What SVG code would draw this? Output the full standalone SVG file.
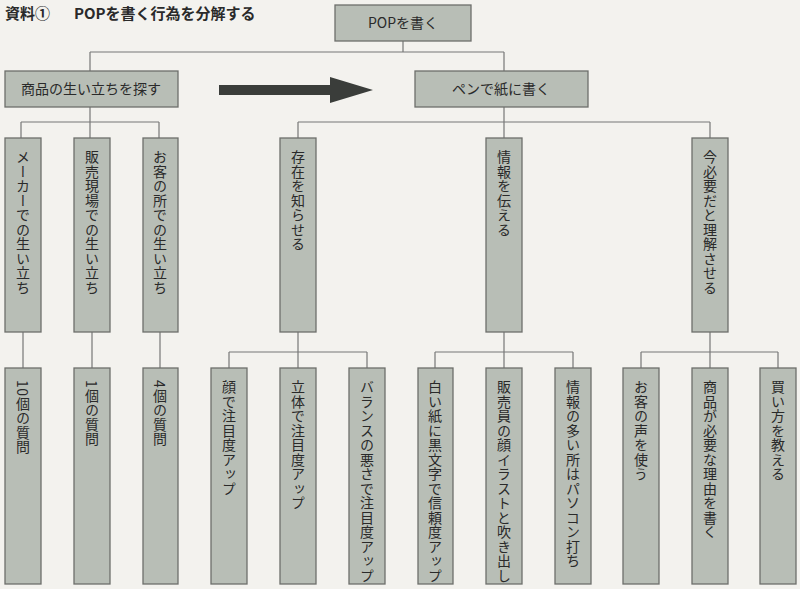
<svg xmlns="http://www.w3.org/2000/svg" width="800" height="589" viewBox="0 0 800 589">
<style>
.b{fill:#b8beb6;stroke:#6d6f6c;stroke-width:1.3}
.t{font-family:"Noto Sans CJK JP","Liberation Sans",sans-serif;font-size:14px;fill:#2a2a2a}
.h{text-anchor:middle}
.v{writing-mode:vertical-rl;letter-spacing:0.5px}
.c{fill:none;stroke:#777;stroke-width:1.2}
</style>
<rect width="800" height="589" fill="#f3f2ee"/>
<text x="5" y="19" class="t" style="font-size:15px;font-weight:bold">資料①</text>
<text x="74" y="19" class="t" style="font-size:15px;font-weight:bold">POPを書く行為を分解する</text>
<g id="connectors">
<path class="c" d="M403 41V52M90 52H504M90 52V71M504 52V71"/>
<path class="c" d="M90 107V122M21 122H159M21 122V138M90 122V138M159 122V138"/>
<path class="c" d="M504 107V122M298 122H710M298 122V138M504 122V138M710 122V138"/>
<path class="c" d="M23 332V368M92 332V368M160 332V368"/>
<path class="c" d="M298 332V352M229 352H367M229 352V368M298 352V368M367 352V368"/>
<path class="c" d="M504 332V352M435 352H573M435 352V368M504 352V368M573 352V368"/>
<path class="c" d="M710 332V352M641 352H778M641 352V368M710 352V368M778 352V368"/>
<path d="M219 85H330V77L373 90L330 103V95H219Z" fill="#3a3d3a"/>
</g>
<g id="root"><rect class="b" x="335" y="5" width="136" height="36"/><text class="t h" x="403" y="28">POPを書く</text></g>
<g id="n1"><rect class="b" x="5" y="71" width="173" height="36"/><text class="t h" x="91" y="94">商品の生い立ちを探す</text></g>
<g id="n2"><rect class="b" x="415" y="71" width="173" height="36"/><text class="t h" x="501" y="94">ペンで紙に書く</text></g>
<g id="n11"><rect class="b" x="5" y="138" width="36" height="194"/><text class="t v" x="23" y="150">メーカーでの生い立ち</text></g>
<g id="n12"><rect class="b" x="74" y="138" width="36" height="194"/><text class="t v" x="92" y="150">販売現場での生い立ち</text></g>
<g id="n13"><rect class="b" x="143" y="138" width="35" height="194"/><text class="t v" x="160" y="150">お客の所での生い立ち</text></g>
<g id="n21"><rect class="b" x="280" y="138" width="36" height="194"/><text class="t v" x="298" y="150">存在を知らせる</text></g>
<g id="n22"><rect class="b" x="486" y="138" width="36" height="194"/><text class="t v" x="504" y="150">情報を伝える</text></g>
<g id="n23"><rect class="b" x="692" y="138" width="36" height="194"/><text class="t v" x="710" y="150">今必要だと理解させる</text></g>
<g id="n111"><rect class="b" x="5" y="368" width="36" height="216"/><text class="t v" x="23" y="380">10個の質問</text></g>
<g id="n121"><rect class="b" x="74" y="368" width="36" height="216"/><text class="t v" x="92" y="380">1個の質問</text></g>
<g id="n131"><rect class="b" x="143" y="368" width="35" height="216"/><text class="t v" x="160" y="380">4個の質問</text></g>
<g id="n211"><rect class="b" x="211" y="368" width="36" height="216"/><text class="t v" x="229" y="380">顔で注目度アップ</text></g>
<g id="n212"><rect class="b" x="280" y="368" width="36" height="216"/><text class="t v" x="298" y="380">立体で注目度アップ</text></g>
<g id="n213"><rect class="b" x="349" y="368" width="36" height="216"/><text class="t v" x="367" y="380">バランスの悪さで注目度アップ</text></g>
<g id="n221"><rect class="b" x="418" y="368" width="35" height="216"/><text class="t v" x="435" y="380">白い紙に黒文字で信頼度アップ</text></g>
<g id="n222"><rect class="b" x="486" y="368" width="36" height="216"/><text class="t v" x="504" y="380">販売員の顔イラストと吹き出し</text></g>
<g id="n223"><rect class="b" x="555" y="368" width="36" height="216"/><text class="t v" x="573" y="380">情報の多い所はパソコン打ち</text></g>
<g id="n231"><rect class="b" x="623" y="368" width="36" height="216"/><text class="t v" x="641" y="380">お客の声を使う</text></g>
<g id="n232"><rect class="b" x="692" y="368" width="36" height="216"/><text class="t v" x="710" y="380">商品が必要な理由を書く</text></g>
<g id="n233"><rect class="b" x="760" y="368" width="36" height="216"/><text class="t v" x="778" y="380">買い方を教える</text></g>
</svg>
